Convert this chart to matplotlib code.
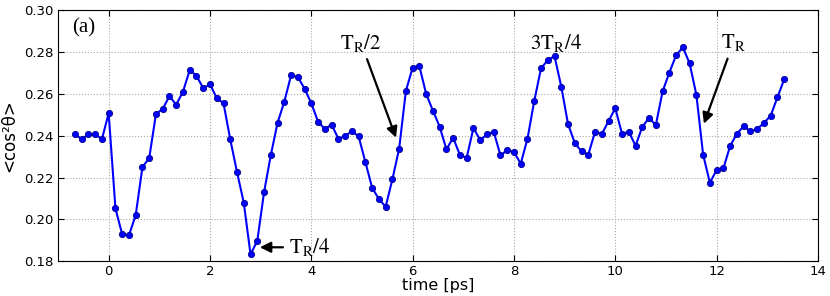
import numpy as np
import matplotlib
matplotlib.use("Agg")
import matplotlib.pyplot as plt

plt.rcParams['mathtext.fontset'] = 'stix'

# sample times: 2/15 ps steps from -2/3 ps to 40/3 ps
time = np.arange(-5, 101) * 2.0 / 15.0

cos2 = [0.2406, 0.2384, 0.2406, 0.2406, 0.2384, 0.2507, 0.2052, 0.1928, 0.1923, 0.2020,
        0.2250, 0.2293, 0.2504, 0.2528, 0.2590, 0.2548, 0.2611, 0.2714, 0.2687, 0.2627,
        0.2646, 0.2580, 0.2555, 0.2382, 0.2226, 0.2079, 0.1832, 0.1897, 0.2129, 0.2307,
        0.2462, 0.2563, 0.2689, 0.2681, 0.2625, 0.2555, 0.2467, 0.2432, 0.2453, 0.2386,
        0.2398, 0.2422, 0.2397, 0.2274, 0.2151, 0.2097, 0.2060, 0.2191, 0.2338, 0.2615,
        0.2726, 0.2732, 0.2600, 0.2520, 0.2443, 0.2335, 0.2390, 0.2307, 0.2295, 0.2437,
        0.2379, 0.2406, 0.2419, 0.2306, 0.2331, 0.2322, 0.2266, 0.2386, 0.2566, 0.2722,
        0.2762, 0.2781, 0.2635, 0.2456, 0.2365, 0.2325, 0.2309, 0.2419, 0.2408, 0.2470,
        0.2531, 0.2408, 0.2419, 0.2352, 0.2443, 0.2485, 0.2451, 0.2612, 0.2702, 0.2785,
        0.2823, 0.2746, 0.2596, 0.2309, 0.2175, 0.2236, 0.2244, 0.2351, 0.2410, 0.2445,
        0.2421, 0.2432, 0.2461, 0.2496, 0.2584, 0.2670]

xticks = [0, 2, 4, 6, 8, 10, 12, 14]
yticks = [0.18, 0.20, 0.22, 0.24, 0.26, 0.28, 0.30]

fig = plt.figure(figsize=(8.3, 2.96), dpi=100)
ax = fig.add_axes([0.0699, 0.118, 0.9156, 0.847])

ax.plot(time, cos2, '-', color='#0000ff', lw=1.5, marker='o', ms=4.5,
        mfc='#0000ff', mec='#00008b', mew=0.6)

ax.set_xlim(-1, 14)
ax.set_ylim(0.18, 0.30)
ax.set_xticks(xticks)
ax.set_yticks(yticks)
ax.set_yticklabels(['%.2f' % v for v in yticks])
ax.tick_params(direction='in', labelsize=9.5, top=True, right=True, length=4)
ax.tick_params(axis='x', pad=3)
ax.grid(True, color='#aaaaaa', ls=':', lw=0.8)
ax.set_xlabel('time [ps]', fontsize=11.5, labelpad=0)
ax.set_ylabel('<cos\u00b2\u03b8>', fontsize=12, labelpad=4)

serif = dict(fontsize=15, family='Liberation Serif')
ax.text(-0.72, 0.2915, '(a)', ha='left', va='center', **serif)

arrow = dict(arrowstyle='-|>', color='black', lw=1.6, mutation_scale=16)
ax.annotate(r'$\mathrm{T_R/4}$', xy=(2.93, 0.1866), xytext=(3.55, 0.1866),
            ha='left', va='center', fontsize=15, arrowprops=arrow)
ax.annotate(r'$\mathrm{T_R/2}$', xy=(5.69, 0.2378), xytext=(4.98, 0.2845),
            ha='center', va='center', fontsize=15, arrowprops=arrow)
ax.text(8.82, 0.2845, r'$\mathrm{3T_R/4}$', ha='center', va='center', fontsize=15)
ax.annotate(r'$\mathrm{T_R}$', xy=(11.73, 0.2445), xytext=(12.33, 0.2845),
            ha='center', va='center', fontsize=15, arrowprops=arrow)

fig.savefig('out.png', dpi=100)
